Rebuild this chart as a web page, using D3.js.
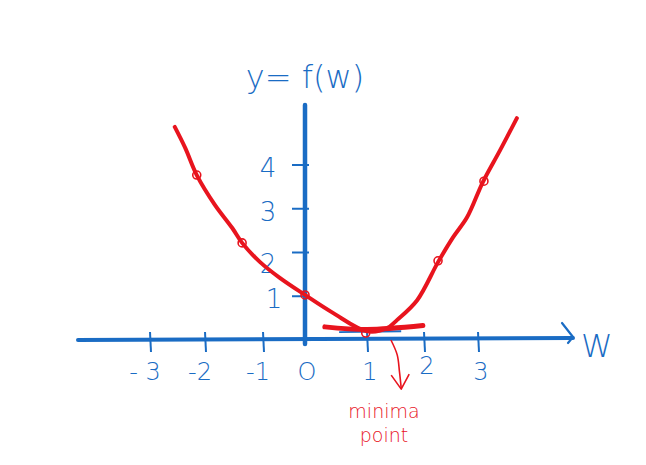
<!DOCTYPE html>
<html><head><meta charset="utf-8">
<script src="https://cdn.jsdelivr.net/npm/d3@7"></script>
<style>html,body{margin:0;padding:0;background:#fff;}svg{display:block;}</style>
</head><body>
<script>
const xTicks = [-3, -2, -1, 0, 1, 2, 3];
const xTickLabels = ["- 3", "-2", "-1", "O", "1", "2", "3"];
const yTicks = [1, 2, 3, 4];
const yTickLabels = ["1", "2", "3", "4"];
const curveW = [-2.55, -2.36, -2.15, -1.83, -1.53, -1.36, -1.05, -0.6, 0, 0.45, 1.0, 1.35, 1.53, 1.88, 2.26, 2.54, 2.80, 3.09, 3.41, 3.72];
const curveF = [4.87, 4.39, 3.77, 3.09, 2.56, 2.22, 1.78, 1.42, 1.03, 0.62, 0.2, 0.27, 0.46, 0.91, 1.78, 2.35, 2.81, 3.61, 4.34, 5.07];
const markW = [-2.15, -1.36, 0, 0.98, 2.26, 3.11];
const markF = [3.77, 2.22, 1.03, 0.16, 1.81, 3.63];
const tangentW = [0.32, 1.0, 1.98];
const tangentF = [0.3, 0.24, 0.33];
const arrowW = [1.42, 1.53, 1.57, 1.6];
const arrowF = [0.0, -0.34, -0.73, -1.1];
const title = "y= f(w)";
const xName = "W";
const note = ["minima", "point"];

const W = 646, H = 465;
const blue = "#1a6cc4", red = "#e8141e";
const x = d3.scaleLinear().domain(xTicks).range([150, 205, 263, 305, 367, 424, 478]);
const y = d3.scaleLinear().domain([0, 4]).range([340, 165]);
const hand = "'DejaVu Sans', sans-serif";

const svg = d3.select("body").append("svg").attr("width", W).attr("height", H);

// x axis
const x0 = x(0), y0 = y(0);
svg.append("line").attr("x1", 78).attr("x2", 573).attr("y1", y0).attr("y2", y0 - 2)
  .attr("stroke", blue).attr("stroke-width", 4).attr("stroke-linecap", "round");
svg.append("path").attr("d", `M562,323 L573,337 L568,343`).attr("fill", "none")
  .attr("stroke", blue).attr("stroke-width", 2.2).attr("stroke-linecap", "round").attr("stroke-linejoin", "round");
svg.append("text").attr("x", 581).attr("y", 357).text(xName).attr("fill", blue)
  .attr("font-family", hand).attr("font-weight", 200).attr("font-size", 32);

// x ticks
xTicks.forEach((t, i) => {
  if (t !== 0) svg.append("line").attr("x1", x(t)).attr("x2", x(t) + 1).attr("y1", y0 - 8).attr("y2", y0 + 12)
    .attr("stroke", blue).attr("stroke-width", 2);
  svg.append("text").attr("x", x(t) + (t === 0 ? 2 : (t < 0 ? -5 : 3))).attr("y", y0 + 40 - (t === 2 ? 6 : 0))
    .attr("text-anchor", "middle").text(xTickLabels[i]).attr("fill", blue)
    .attr("font-family", hand).attr("font-weight", 200).attr("font-size", 24);
});

// y axis
svg.append("line").attr("x1", x0).attr("x2", x0).attr("y1", 105).attr("y2", y0 + 4)
  .attr("stroke", blue).attr("stroke-width", 4.5).attr("stroke-linecap", "round");
yTicks.forEach((t, i) => {
  svg.append("line").attr("x1", x0 - 13).attr("x2", x0 + 4).attr("y1", y(t)).attr("y2", y(t))
    .attr("stroke", blue).attr("stroke-width", 2);
  svg.append("text").attr("x", x0 - 37 + (t === 1 ? 6 : 0)).attr("y", y(t) + (t === 2 ? 20 : (t === 1 ? 12 : 12)))
    .attr("text-anchor", "middle").text(yTickLabels[i]).attr("fill", blue)
    .attr("font-family", hand).attr("font-weight", 200).attr("font-size", 26);
});
svg.append("text").attr("x", 305).attr("y", 88).attr("text-anchor", "middle").text(title)
  .attr("fill", blue).attr("font-family", hand).attr("font-weight", 200).attr("font-size", 32);

// small blue line under tangent
svg.append("line").attr("x1", x(0.55)).attr("x2", x(1.6)).attr("y1", y(0.18)).attr("y2", y(0.2))
  .attr("stroke", blue).attr("stroke-width", 2);

// curve
const line = d3.line().x((d, i) => x(d[0])).y(d => y(d[1])).curve(d3.curveCatmullRom.alpha(0.5));
svg.append("path").datum(curveW.map((w, i) => [w, curveF[i]])).attr("d", line)
  .attr("fill", "none").attr("stroke", red).attr("stroke-width", 4).attr("stroke-linecap", "round");

// tangent
svg.append("path").datum(tangentW.map((w, i) => [w, tangentF[i]])).attr("d", line)
  .attr("fill", "none").attr("stroke", red).attr("stroke-width", 5).attr("stroke-linecap", "round");

// marks
svg.selectAll("circle.m").data(markW.map((w, i) => [w, markF[i]])).join("circle")
  .attr("cx", d => x(d[0])).attr("cy", d => y(d[1])).attr("r", 4)
  .attr("fill", "none").attr("stroke", red).attr("stroke-width", 1.6);

// arrow
svg.append("path").datum(arrowW.map((w, i) => [w, arrowF[i]])).attr("d", line)
  .attr("fill", "none").attr("stroke", red).attr("stroke-width", 1.6);
const ax = x(arrowW[3]), ay = y(arrowF[3]);
svg.append("path").attr("d", `M${ax - 10},${ay - 13} L${ax},${ay + 1} L${ax + 8},${ay - 14}`)
  .attr("fill", "none").attr("stroke", red).attr("stroke-width", 1.6).attr("stroke-linejoin", "round");

// note
note.forEach((s, i) => {
  svg.append("text").attr("x", 384).attr("y", 418 + i * 24).attr("text-anchor", "middle").text(s)
    .attr("fill", red).attr("font-family", hand).attr("font-weight", 200).attr("font-size", 19);
});
</script>
</body></html>
